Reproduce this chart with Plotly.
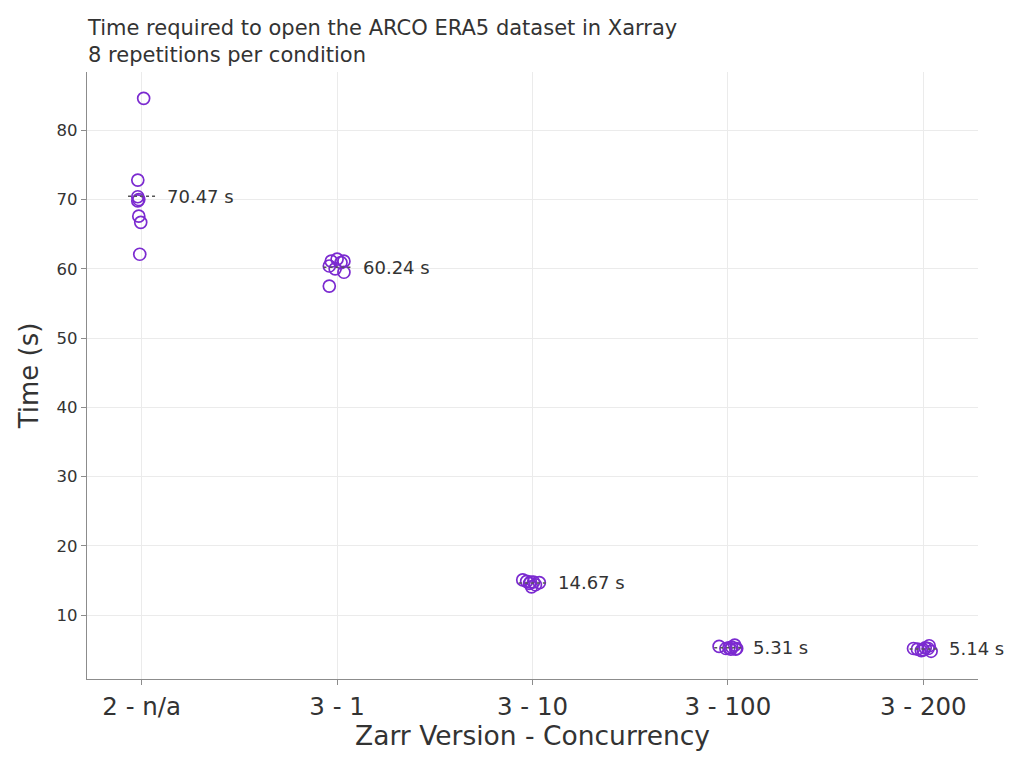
import plotly.graph_objects as go

# categories shown on the x axis
conditions = ["2 - n/a", "3 - 1", "3 - 10", "3 - 100", "3 - 200"]

# measured open times (s), 8 repetitions per condition
times = [
    [84.6, 72.8, 70.4, 70.0, 69.8, 67.6, 66.7, 62.1],
    [57.5, 60.4, 61.1, 61.4, 60.9, 61.1, 59.5, 60.0],
    [15.1, 14.9, 14.6, 14.1, 14.8, 14.4, 14.7, 14.8],
    [5.5, 5.2, 5.3, 5.4, 5.7, 5.1, 5.2, 5.1],
    [5.2, 5.1, 4.9, 5.3, 5.6, 4.8, 5.2, 5.0],
]

# horizontal jitter of each point, in category units
jitter = [
    [0.01, -0.02, -0.02, -0.015, -0.02, -0.015, -0.005, -0.01],
    [-0.04, -0.04, -0.03, 0.0, 0.02, 0.035, 0.035, -0.01],
    [-0.05, -0.03, -0.015, -0.005, 0.005, 0.015, 0.035, -0.01],
    [-0.045, -0.01, 0.005, 0.02, 0.035, 0.04, 0.045, 0.015],
    [-0.05, -0.03, -0.01, 0.01, 0.03, 0.04, 0.025, 0.0],
]

means = [70.47, 60.24, 14.67, 5.31, 5.14]

purple = "#7B2AD0"
axis_grey = "#8c8c8c"
fig = go.Figure()

for i, vals in enumerate(times):
    xs = [i + j for j in jitter[i]]
    fig.add_trace(go.Scatter(
        x=xs, y=vals, mode="markers",
        marker=dict(symbol="circle-open", size=12, color=purple, line=dict(width=1.7)),
        showlegend=False, hoverinfo="y"))
    # dotted mean marker
    fig.add_trace(go.Scatter(
        x=[i - 0.07, i + 0.075], y=[means[i], means[i]], mode="lines",
        line=dict(color="#555555", width=1.5, dash="dot"),
        showlegend=False, hoverinfo="skip"))
    fig.add_annotation(x=i + 0.12, y=means[i], text=f"{means[i]:.2f} s",
                       showarrow=False, xanchor="left", yanchor="middle",
                       font=dict(size=18, color="#333333"))

# page body adds 8px, so the figure is drawn 16px smaller
fig.update_layout(
    width=1008, height=752,
    plot_bgcolor="white", paper_bgcolor="white",
    font=dict(family="DejaVu Sans", color="#333333"),
    margin=dict(l=79, r=38, t=64, b=81),
    title=dict(
        text="Time required to open the ARCO ERA5 dataset in Xarray<br>8 repetitions per condition",
        x=80 / 1008, xanchor="left", y=1 - 27 / 752, yanchor="top",
        font=dict(size=21, color="#333333")),
)
fig.update_xaxes(
    range=[-0.28, 4.28],
    tickvals=list(range(len(conditions))), ticktext=conditions,
    tickfont=dict(size=24.5), showgrid=True, gridcolor="#ebebeb",
    showline=True, linecolor=axis_grey, linewidth=1.2,
    ticks="outside", ticklen=5, tickcolor=axis_grey,
    title=dict(text="Zarr Version - Concurrency", font=dict(size=26.5), standoff=4),
    zeroline=False)
fig.update_yaxes(
    range=[0.8, 88.4],
    tickvals=[10, 20, 30, 40, 50, 60, 70, 80],
    tickfont=dict(size=16.5), showgrid=True, gridcolor="#ebebeb",
    showline=True, linecolor=axis_grey, linewidth=1.2,
    ticks="outside", ticklen=5, tickcolor=axis_grey,
    title=dict(text="Time (s)", font=dict(size=26), standoff=10),
    zeroline=False)

fig.write_html("out.html")
